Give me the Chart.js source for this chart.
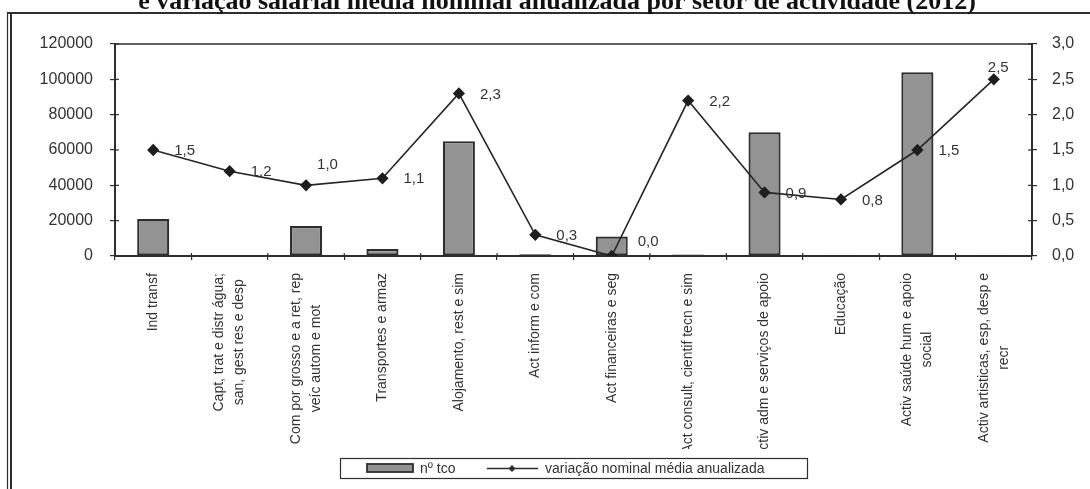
<!DOCTYPE html>
<html>
<head>
<meta charset="utf-8">
<script src="https://cdn.jsdelivr.net/npm/chart.js@4.4.1/dist/chart.umd.min.js"></script>
<style>
  html, body { margin: 0; padding: 0; background: #fff; }
  #wrap { position: relative; width: 1090px; height: 489px; }
</style>
</head>
<body>
<div id="wrap"><canvas id="c" width="1090" height="489"></canvas></div>
<script>
// Sectors (each entry is the list of lines of its label)
const categories = [
  ['Ind transf'],
  ['Capt, trat e distr água;', 'san, gest res e desp'],
  ['Com por grosso e a ret, rep', 'veíc autom e mot'],
  ['Transportes e armaz'],
  ['Alojamento, rest e sim'],
  ['Act inform e com'],
  ['Act financeiras e seg'],
  ['Act consult, cientif tecn e sim'],
  ['Activ adm e serviços de apoio'],
  ['Educação'],
  ['Activ saúde hum e apoio', 'social'],
  ['Activ artisticas, esp, desp e', 'recr']
];
// Number of workers per sector
const workers = [21000, 300, 17000, 4000, 65000, 1000, 11000, 800, 70000, 600, 104000, 500];
// Annualised average nominal wage change (%)
const wageChange = [1.5, 1.2, 1.0, 1.1, 2.3, 0.3, 0.0, 2.2, 0.9, 0.8, 1.5, 2.5];
// Axis ticks
const countTicks = [0, 20000, 40000, 60000, 80000, 100000, 120000];
const rateTicks = [0, 0.5, 1.0, 1.5, 2.0, 2.5, 3.0];
const seriesNames = ['nº tco', 'variação nominal média anualizada'];
const titleText = 'e variação salarial média nominal anualizada por setor de actividade (2012)';

const INK = '#2e2e2e';
const TEXT = '#333333';
const BAR_FILL = '#939393';
const SANS = '"Liberation Sans", Arial, sans-serif';
const fmtRate = v => v.toFixed(1).replace('.', ',');

// Where each value label sits relative to its point
const labelShift = { 2: [11, -20], 6: [26, -14], 11: [-6, -11] };

function seg(ctx, x1, y1, x2, y2) {
  ctx.beginPath(); ctx.moveTo(x1, y1); ctx.lineTo(x2, y2); ctx.stroke();
}

const decorations = {
  id: 'decorations',
  afterDraw(chart) {
    const { ctx, chartArea: a, scales } = chart;
    const xs = scales.x;
    ctx.save();

    // page frame
    ctx.strokeStyle = INK;
    ctx.lineWidth = 1.2;
    seg(ctx, 7.5, 12, 7.5, 489);
    ctx.lineWidth = 2;
    seg(ctx, 11, 13, 11, 489);
    seg(ctx, 7, 13, 1090, 13);

    // title
    ctx.fillStyle = '#111';
    ctx.font = 'bold 26px "Liberation Serif", "Times New Roman", serif';
    ctx.textAlign = 'center';
    ctx.textBaseline = 'alphabetic';
    ctx.fillText(titleText, 557, 8.5);

    // top edge of the plot box
    ctx.strokeStyle = INK;
    ctx.lineWidth = 1.5;
    seg(ctx, a.left, a.top, a.right, a.top);

    // inner halves of the tick marks
    ctx.lineWidth = 1.2;
    countTicks.forEach(v => {
      const y = scales.y.getPixelForValue(v);
      seg(ctx, a.left, y, a.left + 4, y);
    });
    rateTicks.forEach(v => {
      const y = scales.y1.getPixelForValue(v);
      seg(ctx, a.right - 4, y, a.right, y);
    });
    for (let i = 0; i <= categories.length; i++) {
      let x;
      if (i === 0) x = a.left;
      else if (i === categories.length) x = a.right;
      else x = (xs.getPixelForValue(i - 1) + xs.getPixelForValue(i)) / 2;
      seg(ctx, x, a.bottom - 3, x, a.bottom);
    }

    // category labels, rotated, clipped above the legend
    ctx.save();
    ctx.beginPath();
    ctx.rect(a.left - 20, a.bottom + 5, a.width + 40, 449 - a.bottom - 5);
    ctx.clip();
    ctx.fillStyle = TEXT;
    ctx.font = '14px ' + SANS;
    ctx.textAlign = 'center';
    ctx.textBaseline = 'middle';
    const lineH = 20;
    const topY = 273;
    categories.forEach((lines, i) => {
      const cx = xs.getPixelForValue(i);
      const maxW = Math.max(...lines.map(l => ctx.measureText(l).width));
      ctx.save();
      ctx.translate(cx, topY);
      ctx.rotate(-Math.PI / 2);
      lines.forEach((l, k) => {
        ctx.fillText(l, -maxW / 2, (k - (lines.length - 1) / 2) * lineH);
      });
      ctx.restore();
    });
    ctx.restore();

    // value labels for the line series
    ctx.fillStyle = TEXT;
    ctx.font = '15px ' + SANS;
    ctx.textAlign = 'left';
    ctx.textBaseline = 'middle';
    chart.getDatasetMeta(1).data.forEach((pt, i) => {
      const [dx, dy] = labelShift[i] || [21, 1];
      ctx.fillText(fmtRate(wageChange[i]), pt.x + dx, pt.y + dy);
    });

    // legend
    ctx.strokeStyle = INK;
    ctx.lineWidth = 1.2;
    ctx.strokeRect(340.5, 458.5, 467, 20);
    ctx.fillStyle = BAR_FILL;
    ctx.fillRect(367, 464, 46, 8);
    ctx.lineWidth = 1.8;
    ctx.strokeRect(367, 464, 46, 8);
    ctx.fillStyle = TEXT;
    ctx.font = '14px ' + SANS;
    ctx.fillText(seriesNames[0], 420, 469);
    ctx.lineWidth = 1.5;
    seg(ctx, 487, 468.5, 538, 468.5);
    ctx.fillStyle = INK;
    ctx.beginPath();
    ctx.moveTo(512, 465); ctx.lineTo(515.5, 468.5); ctx.lineTo(512, 472); ctx.lineTo(508.5, 468.5);
    ctx.closePath(); ctx.fill();
    ctx.fillStyle = TEXT;
    ctx.fillText(seriesNames[1], 545, 469);

    ctx.restore();
  }
};

new Chart(document.getElementById('c'), {
  type: 'bar',
  data: {
    labels: categories.map(c => c.join(' ')),
    datasets: [
      {
        type: 'bar',
        label: seriesNames[0],
        data: workers,
        yAxisID: 'y',
        backgroundColor: BAR_FILL,
        borderColor: INK,
        borderWidth: 2.2,
        borderSkipped: false,
        barPercentage: 0.42,
        categoryPercentage: 1,
        order: 2
      },
      {
        type: 'line',
        label: seriesNames[1],
        data: wageChange,
        yAxisID: 'y1',
        borderColor: '#262626',
        borderWidth: 1.6,
        pointStyle: 'rectRot',
        pointRadius: 5,
        pointBackgroundColor: '#1e1e1e',
        pointBorderColor: '#1e1e1e',
        tension: 0,
        order: 1
      }
    ]
  },
  options: {
    responsive: false,
    animation: false,
    layout: { padding: { top: 44, left: 0, right: 0, bottom: 0 } },
    plugins: { legend: { display: false }, tooltip: { enabled: false }, title: { display: false } },
    scales: {
      x: {
        offset: true,
        grid: { display: true, drawOnChartArea: false, offset: true, tickLength: 4, color: INK, lineWidth: 1.2 },
        border: { display: true, color: INK, width: 2 },
        ticks: { display: false },
        afterFit: s => { s.height = 233; }
      },
      y: {
        position: 'left',
        min: 0, max: 120000,
        afterBuildTicks: s => { s.ticks = countTicks.map(v => ({ value: v })); },
        grid: { display: true, drawOnChartArea: false, tickLength: 5, color: INK, lineWidth: 1.2 },
        border: { display: true, color: INK, width: 2 },
        ticks: { color: TEXT, font: { family: SANS, size: 16 }, padding: 17, callback: v => String(v) },
        afterFit: s => { s.width = 115; }
      },
      y1: {
        position: 'right',
        min: 0, max: 3,
        afterBuildTicks: s => { s.ticks = rateTicks.map(v => ({ value: v })); },
        grid: { display: true, drawOnChartArea: false, tickLength: 5, color: INK, lineWidth: 1.2 },
        border: { display: true, color: INK, width: 2 },
        ticks: { color: TEXT, font: { family: SANS, size: 16 }, padding: 15, callback: v => fmtRate(v) },
        afterFit: s => { s.width = 58; }
      }
    }
  },
  plugins: [decorations]
});
</script>
</body>
</html>
